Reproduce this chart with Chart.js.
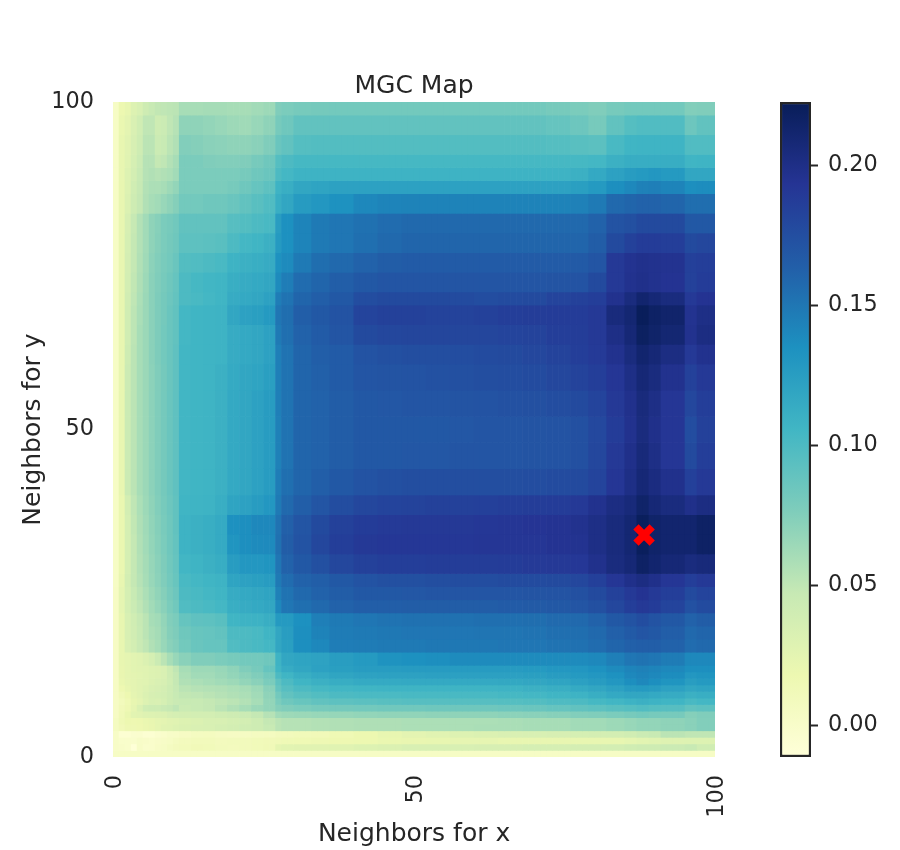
<!DOCTYPE html>
<html>
<head>
<meta charset="utf-8">
<title>MGC Map</title>
<script src="https://cdn.jsdelivr.net/npm/chart.js@4"></script>
<style>
    body { margin: 0; background: #fff; width: 900px; height: 850px; position: relative; overflow: hidden; }
    canvas { position: absolute; top: 0; }
    #mapChart { left: 0; }
    #barChart { left: 760px; }
</style>
</head>
<body>
<canvas id="mapChart" width="760" height="850"></canvas>
<canvas id="barChart" width="140" height="850"></canvas>
<script>
// band edges of the map
const xEdges = [0,1,2,3,4,5,6,7,8,9,10,11,13,15,17,19,21,23,25,27,28,30,33,36,40,44,48,52,56,60,64,68,72,76,79,82,85,87,89,91,95,97,100];
const yEdges = [100,98,95,92,90,88,86,83,80,77,74,71,69,66,63,60,56,52,48,44,40,37,34,31,28,26,24,22,20,18,16,14,13,12,11,10,9,8,7,6,5,4,3,2,1,0];
// estimated statistic x 1000, one row per y band, top row first
const mgcRows = [
    [3,18,22,30,34,42,46,49,50,51,52, 60,60,61,61,60,60,62,64, 76,78,80,81,82,82,82,82,82,82,82,82,82,80,78, 76,80,82,82,82,82,75,76],
    [3,20,25,33,40,50,50,42,44,50,54, 70,70,68,66,64,63,66,70, 80,84,90,90,90,90,90,90,90,90,90,90,90,88,85, 80,90,96,98,98,98,85,90],
    [3,22,27,35,42,52,52,44,46,52,56, 75,74,72,71,70,70,72,76, 86,90,96,97,97,97,97,97,97,97,97,97,97,96,94, 93,102,106,107,107,107,98,98],
    [3,22,28,36,44,54,54,48,50,55,60, 78,78,76,75,75,76,80,84, 96,100,103,103,103,103,103,103,103,103,103,103,103,103,103, 104,110,113,113,113,113,106,107],
    [3,22,30,38,46,54,56,54,56,58,62, 78,78,78,78,78,80,84,86, 100,104,108,108,108,108,108,108,108,108,108,108,108,108,110, 116,122,126,128,130,128,118,118],
    [3,22,30,40,47,55,58,58,60,64,68, 78,78,78,78,80,84,88,92, 108,112,118,120,122,122,122,122,122,122,122,122,122,122,124, 128,136,140,144,145,142,136,137],
    [3,22,32,42,48,56,60,62,66,70,74, 82,82,84,84,86,90,94,98, 112,118,127,130,134,140,142,143,143,143,143,143,143,143,144, 148,158,160,162,162,160,155,155],
    [3,22,35,47,55,62,70,73,78,80,83, 90,90,90,90,95,97,100,102, 125,135,142,148,150,153,156,158,158,158,158,158,158,158,158, 162,172,174,178,178,178,168,168],
    [3,22,36,48,55,62,70,74,78,81,84, 92,92,93,94,100,104,106,110, 128,135,142,148,150,154,158,160,160,160,160,160,160,160,160, 165,178,184,188,188,186,178,180],
    [3,22,37,48,56,63,71,75,79,82,86, 97,98,100,102,108,110,112,114, 134,138,148,155,158,162,165,166,166,166,166,166,166,166,167, 170,190,195,197,196,195,185,186],
    [3,22,38,49,57,64,72,76,80,84,88, 100,103,105,106,112,114,116,118, 138,146,156,160,164,168,170,170,170,170,170,170,170,171,172, 178,190,196,198,196,194,184,188],
    [3,22,39,50,58,65,72,77,81,85,89, 100,102,104,106,114,116,118,122, 146,152,160,164,168,176,178,178,178,177,176,177,178,182,184, 186,196,204,212,208,204,190,194],
    [3,22,40,51,59,65,72,77,81,86,90, 104,106,107,108,118,122,124,128, 150,155,164,168,172,182,184,184,183,183,184,186,187,188,188, 190,205,210,221,216,213,195,200],
    [3,22,40,51,60,65,72,77,82,86,90, 104,106,107,108,114,116,118,122, 148,154,162,166,170,178,180,181,181,181,181,182,183,186,187, 190,200,208,218,214,210,196,202],
    [3,22,42,52,60,65,72,77,82,86,91, 105,106,107,108,114,116,118,122, 145,152,160,164,166,172,174,175,175,176,177,178,180,183,186, 189,196,204,212,208,202,190,196],
    [3,22,43,52,60,65,71,76,81,86,91, 105,106,107,110,115,118,120,124, 145,152,160,163,166,170,171,172,173,174,175,176,177,180,183, 186,192,200,208,204,196,184,190],
    [3,22,44,52,60,65,71,76,81,86,91, 105,106,107,110,116,118,122,126, 145,152,160,162,165,168,169,170,170,171,172,173,174,176,178, 182,190,197,205,200,192,180,186],
    [3,22,44,52,60,65,71,76,81,86,91, 105,106,107,110,116,118,122,126, 144,152,160,162,165,168,168,168,168,169,170,170,171,172,174, 179,188,196,204,198,192,176,184],
    [3,22,44,52,60,65,71,76,81,86,91, 105,106,107,110,116,118,122,126, 144,152,160,162,165,168,168,169,169,170,170,170,171,172,174, 180,190,198,206,200,192,178,186],
    [3,22,44,52,60,65,71,76,81,86,91, 105,106,107,110,116,118,122,126, 146,154,160,164,168,172,174,175,175,175,175,175,176,177,178, 182,192,200,208,203,197,185,190],
    [3,20,38,50,58,64,70,75,80,85,90, 106,107,108,112,120,122,126,130, 148,158,164,170,176,180,182,183,184,184,185,186,187,188,190, 196,202,206,214,208,204,198,202],
    [3,20,36,49,57,63,69,74,79,84,90, 108,110,112,115,135,136,140,140, 152,163,170,178,184,188,189,190,190,190,191,192,193,194,196, 200,205,210,220,214,212,212,216],
    [3,20,36,48,56,62,68,73,78,84,89, 108,110,112,115,132,136,138,139, 153,165,172,180,186,190,191,191,191,191,192,192,192,194,195, 200,205,210,220,214,212,212,216],
    [3,20,36,48,55,61,67,72,77,83,88, 105,107,110,113,126,130,130,132, 150,162,168,174,180,184,186,186,187,187,187,188,189,190,191, 197,204,208,216,212,208,204,206],
    [3,22,38,48,54,60,66,71,76,82,87, 102,104,106,108,120,122,124,126, 148,156,162,164,168,172,174,174,175,176,176,177,177,178,180, 185,192,198,202,198,192,186,190],
    [4,24,36,46,52,58,64,69,74,80,85, 100,102,104,106,114,116,118,120, 144,152,158,162,165,168,168,169,170,170,170,170,171,172,174, 178,184,190,194,190,186,178,182],
    [4,24,36,44,50,56,62,67,72,78,83, 98,100,102,104,112,114,116,118, 140,150,154,158,162,164,164,165,165,165,165,166,167,168,170, 174,180,186,190,188,182,173,177],
    [4,22,34,40,47,52,60,62,68,75,78, 88,91,92,94,106,108,109,112, 128,128,135,145,148,150,152,153,153,153,154,154,155,157,158, 162,168,172,176,172,168,162,165],
    [4,22,34,39,46,52,58,61,67,74,77, 84,87,88,90,100,100,102,106, 118,125,136,143,147,148,149,150,150,150,151,151,152,154,155, 158,163,167,170,168,164,158,160],
    [4,22,33,38,45,50,56,60,66,72,75, 82,86,88,88,98,100,102,104, 118,124,136,140,146,147,148,148,149,149,149,150,150,152,153, 156,160,163,164,164,162,156,158],
    [4,22,24,26,28,32,36,44,52,60,66, 72,76,76,78,80,82,82,84, 108,118,120,121,125,128,133,135,136,138,138,138,138,138,138, 140,145,150,152,150,147,140,140],
    [4,21,24,26,27,28,30,31,33,42,50, 60,64,64,66,70,76,80,88, 106,114,118,122,124,126,126,127,127,127,127,127,128,130,131, 134,138,142,144,142,140,136,136],
    [4,21,24,25,26,28,30,31,33,41,48, 58,62,62,65,68,72,76,82, 100,106,112,116,119,121,122,122,123,123,123,123,124,126,128, 130,134,140,142,140,137,130,132],
    [4,20,23,25,27,28,31,33,35,40,48, 56,58,60,62,64,68,72,78, 92,100,106,110,113,115,115,116,116,116,116,117,118,120,123, 126,130,136,140,136,132,125,128],
    [4,17,22,25,27,30,33,35,37,42,47, 52,54,55,56,58,60,64,72, 88,95,100,103,105,106,107,107,107,107,107,108,110,112,115, 118,122,127,128,126,122,118,120],
    [4,13,18,24,27,32,35,36,38,42,46, 49,50,52,54,56,58,62,70, 82,90,94,97,100,101,101,102,102,102,102,103,104,106,108, 112,116,118,118,116,114,110,112],
    [4,10,15,22,25,30,34,33,36,42,45, 46,46,48,50,52,55,60,68, 78,84,87,90,92,93,94,95,95,95,95,96,97,99,100, 103,105,108,110,108,106,102,104],
    [4,12,16,23,32,40,42,42,45,47,50, 44,46,48,52,56,60,65,68, 74,76,78,80,81,82,83,83,84,84,84,85,86,88,90, 92,94,96,98,96,95,90,92],
    [4,13,20,26,27,29,30,31,32,35,36, 37,38,38,40,42,44,48,54, 62,64,65,66,67,68,69,69,70,70,70,71,72,73,75, 76,78,80,82,80,80,74,76],
    [6,14,18,17,18,20,22,24,25,27,28, 30,32,34,34,36,38,42,48, 52,54,54,55,56,57,57,58,58,58,58,59,60,60,62, 62,64,66,68,68,70,72,75],
    [6,12,16,16,17,19,21,24,27,28,30, 32,33,34,36,38,40,42,46, 52,54,54,55,56,57,57,58,58,58,59,59,60,60,62, 62,64,66,68,68,70,72,75],
    [2,-6,-6,-4,-3,-6,-6,-3,-1,1,2, 4,6,7,5,4,5,6,7, 9,10,11,12,15,18,22,25,27,30,32,33,34,35,36, 37,38,40,44,46,52,50,50],
    [2,-1,-1,-2,1,0,-1,0,2,3,6, 8,10,10,8,9,10,11,12, 13,14,15,16,17,18,20,21,22,23,23,22,22,22,22, 22,22,24,26,28,29,30,30],
    [2,0,-1,-10,2,-2,-1,2,3,6,8, 10,12,11,9,8,10,11,13, 24,26,27,27,28,30,32,34,34,34,35,35,36,36,37, 37,38,40,42,42,44,46,40],
    [3,3,3,3,3,3,3,3,3,3,3, 3,3,3,3,3,3,3,3, 3,3,3,3,3,3,3,3,3,3,3,3,3,3,3, 3,3,3,3,3,3,3,3]
];
const bestScale = [{ x: 88.2, y: 33.9 }];
const axisTicks = [0, 50, 100];
const barTicks = [0, 0.05, 0.10, 0.15, 0.20];
const vMin = -0.0114;
const vMax = 0.2225;
const ylGnBu = ["#ffffd9", "#edf8b1", "#c7e9b4", "#7fcdbb", "#41b6c4", "#1d91c0", "#225ea8", "#253494", "#081d58"];

const inkColor = "#262626";
const fontFamily = "'DejaVu Sans', sans-serif";

function hexToRgb(hex) {
    return [parseInt(hex.slice(1, 3), 16), parseInt(hex.slice(3, 5), 16), parseInt(hex.slice(5, 7), 16)];
}
function cellColor(v) {
    var t = (v - vMin) / (vMax - vMin) * (ylGnBu.length - 1);
    t = Math.max(0, Math.min(ylGnBu.length - 1.001, t));
    var i = Math.floor(t);
    var a = hexToRgb(ylGnBu[i]);
    var b = hexToRgb(ylGnBu[i + 1]);
    var f = t - i;
    return "rgb(" + a.map((c, k) => Math.round(c + (b[k] - c) * f)).join(",") + ")";
}

// one category per drawn column, each belongs to one x band
var columns = [];
var columnBand = [];
xEdges.slice(0, -1).forEach((edge, band) => {
    for (var c = edge; c < xEdges[band + 1]; c++) {
        columns.push(c);
        columnBand.push(band);
    }
});

var cellSets = mgcRows.map((row, r) => ({
    type: "bar",
    xAxisID: "x",
    yAxisID: "y",
    order: 1,
    data: columns.map(() => [yEdges[r + 1], yEdges[r]]),
    backgroundColor: columnBand.map(band => cellColor(row[band] / 1000)),
    barPercentage: 1,
    categoryPercentage: 1,
    grouped: false
}));

new Chart(document.getElementById("mapChart"), {
    data: {
        labels: columns,
        datasets: [{
            type: "scatter",
            xAxisID: "xt",
            yAxisID: "y",
            order: 0,
            data: bestScale,
            pointStyle: "crossRot",
            pointRadius: 11.5,
            pointBorderWidth: 7.5,
            pointBorderColor: "#ff0000",
            pointBackgroundColor: "#ff0000"
        }].concat(cellSets)
    },
    options: {
        responsive: false,
        animation: false,
        events: [],
        layout: { padding: { right: 44 } },
        plugins: {
            legend: { display: false },
            tooltip: { enabled: false },
            title: {
                display: true,
                text: "MGC Map",
                fullSize: false,
                color: inkColor,
                font: { family: fontFamily, size: 25, weight: "normal", lineHeight: 1.1 },
                padding: { top: 73, bottom: 1.5 }
            }
        },
        scales: {
            x: { type: "category", display: false, offset: true },
            xt: {
                type: "linear",
                position: "bottom",
                min: 0,
                max: 100,
                afterBuildTicks: s => { s.ticks = axisTicks.map(v => ({ value: v })); },
                afterFit: s => { s.height = 93; },
                grid: { display: false, drawTicks: false },
                border: { display: false },
                ticks: { color: inkColor, font: { family: fontFamily, size: 22.4 }, minRotation: 90, maxRotation: 90, padding: 18, labelOffset: 2 },
                title: {
                    display: true,
                    text: "Neighbors for x",
                    color: inkColor,
                    font: { family: fontFamily, size: 25 },
                    padding: { top: 0, bottom: 0.5 }
                }
            },
            y: {
                type: "linear",
                min: 0,
                max: 100,
                afterBuildTicks: s => { s.ticks = axisTicks.map(v => ({ value: v })); },
                afterFit: s => { s.width = 113; },
                grid: { display: false, drawTicks: false },
                border: { display: false },
                ticks: { color: inkColor, font: { family: fontFamily, size: 22.4 }, padding: 19 },
                title: {
                    display: true,
                    text: "Neighbors for y",
                    color: inkColor,
                    font: { family: fontFamily, size: 25 },
                    padding: { top: 18, bottom: 0 }
                }
            }
        }
    }
});

// colorbar
new Chart(document.getElementById("barChart"), {
    type: "bar",
    data: {
        labels: [""],
        datasets: [{
            data: [[vMin, vMax]],
            backgroundColor: function (ctx) {
                var area = ctx.chart.chartArea;
                if (!area) return ylGnBu[4];
                var grad = ctx.chart.ctx.createLinearGradient(0, area.bottom, 0, area.top);
                ylGnBu.forEach((c, i) => grad.addColorStop(i / (ylGnBu.length - 1), c));
                return grad;
            },
            borderColor: inkColor,
            borderWidth: 2.5,
            borderSkipped: false,
            barPercentage: 1,
            categoryPercentage: 1
        }]
    },
    options: {
        responsive: false,
        animation: false,
        events: [],
        layout: { padding: { left: 20, top: 102, bottom: 93 } },
        plugins: { legend: { display: false }, tooltip: { enabled: false } },
        scales: {
            x: { display: false },
            y: {
                position: "right",
                min: vMin,
                max: vMax,
                afterBuildTicks: s => { s.ticks = barTicks.map(v => ({ value: v })); },
                afterFit: s => { s.width = 89; },
                grid: { drawOnChartArea: false, tickLength: 7, tickColor: inkColor, tickWidth: 2 },
                border: { display: false },
                ticks: {
                    color: inkColor,
                    font: { family: fontFamily, size: 22.4 },
                    padding: 10,
                    callback: v => v.toFixed(2)
                }
            }
        }
    }
});
</script>
</body>
</html>
